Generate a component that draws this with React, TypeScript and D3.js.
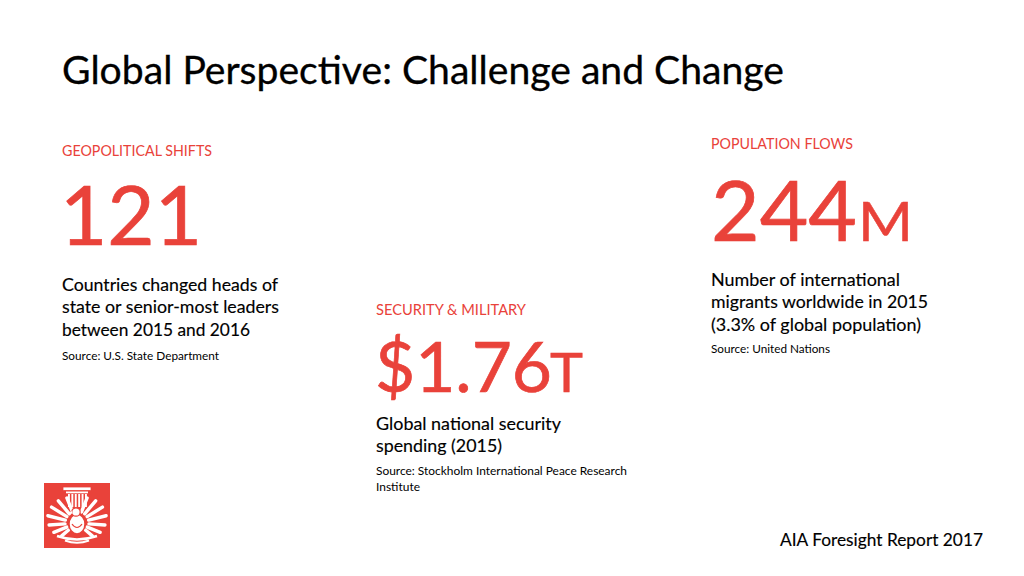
import React from "react";
import * as d3 from "d3";

const RED = "#E9423A";
const FONT = "Lato, 'Open Sans', sans-serif";

const title = "Global Perspective: Challenge and Change";
const sections = ["GEOPOLITICAL SHIFTS", "SECURITY & MILITARY", "POPULATION FLOWS"];
const values = ["121", "$1.76", "244"];
const units = ["", "T", "M"];
const descriptions = [
  ["Countries changed heads of", "state or senior-most leaders", "between 2015 and 2016"],
  ["Global national security", "spending (2015)"],
  ["Number of international", "migrants worldwide in 2015", "(3.3% of global population)"],
];
const sources = [
  ["Source: U.S. State Department"],
  ["Source: Stockholm International Peace Research", "Institute"],
  ["Source: United Nations"],
];
const footer = "AIA Foresight Report 2017";

// layout (positions only)
const blocks = [
  {
    x: 62, labelY: 155.5, labelW: 150,
    numX: 60, numY: 245, numSize: 81, numW: 142, unitX: 0, unitSize: 0, unitW: 0,
    descY: 290.7, descW: [216, 217, 188], srcY: 360, srcW: [157],
  },
  {
    x: 376, labelY: 315, labelW: 150,
    numX: 375, numY: 392, numSize: 69, numW: 177, unitX: 550, unitSize: 55, unitW: 33,
    descY: 429.5, descW: [185, 126], srcY: 475, srcW: [251, 44],
  },
  {
    x: 711, labelY: 148.8, labelW: 142,
    numX: 711, numY: 241, numSize: 83, numW: 146, unitX: 858, unitSize: 55, unitW: 55,
    descY: 285.5, descW: [189, 217, 210], srcY: 352.7, srcW: [119],
  },
];

function Logo({ x, y, w, h }: { x: number; y: number; w: number; h: number }) {
  const cx = w / 2;
  const cy = 40;
  const line = d3.line();
  const feathers = [
    { a: 22, r0: 12, r1: 27 },
    { a: 40, r0: 12, r1: 29 },
    { a: 58, r0: 12, r1: 30 },
    { a: 76, r0: 12, r1: 30 },
    { a: 94, r0: 12, r1: 28 },
    { a: 112, r0: 11, r1: 25 },
    { a: 130, r0: 11, r1: 20 },
  ];
  const paths: string[] = [];
  feathers.forEach((f) => {
    [1, -1].forEach((s) => {
      const t = (f.a * Math.PI) / 180;
      const dx = Math.sin(t) * s;
      const dy = -Math.cos(t);
      const p0: [number, number] = [cx + dx * f.r0, cy + dy * f.r0];
      const p1: [number, number] = [cx + dx * f.r1, cy + dy * f.r1];
      paths.push(line([p0, p1]) as string);
    });
  });
  return (
    <g transform={`translate(${x},${y})`}>
      <rect width={w} height={h} fill={RED} />
      {paths.map((d, i) => (
        <path key={i} d={d} stroke="#fff" strokeWidth={3.4} strokeLinecap="round" fill="none" />
      ))}
      {/* capital */}
      <rect x={19} y={4} width={28} height={3.5} fill="#fff" stroke={RED} strokeWidth={0.8} />
      <rect x={22} y={8.5} width={22} height={1.8} fill="#fff" />
      {d3.range(6).map((i) => (
        <rect key={i} x={24 + i * 3.4} y={11} width={1.9} height={13} fill="#fff" />
      ))}
      {/* body */}
      <ellipse cx={cx} cy={41} rx={8} ry={10} fill="#fff" stroke={RED} strokeWidth={1.5} />
      <path d={`M${cx - 5},${41} Q${cx},${48} ${cx + 5},${41}`} stroke={RED} strokeWidth={1.2} fill="none" />
      <circle cx={cx - 1} cy={29} r={4.2} fill="#fff" stroke={RED} strokeWidth={1.2} />
      <path d={`M${cx - 5},${28} L${cx - 8},${30} L${cx - 4.5},${31} Z`} fill="#fff" />
      {/* base */}
      <path d={`M${cx - 20},${53} Q${cx},${60} ${cx + 20},${53}`} stroke="#fff" strokeWidth={2.4} fill="none" />
      <path d={`M${cx - 12},${57.5} Q${cx},${62} ${cx + 12},${57.5}`} stroke="#fff" strokeWidth={2} fill="none" />
    </g>
  );
}

export default function App() {
  return (
    <svg
      width={1024}
      height={576}
      style={{ position: "absolute", left: 0, top: 0, background: "#fff" }}
      fontFamily={FONT}
    >
      <rect width={1024} height={576} fill="#fff" />
      <text x={62} y={84} fontSize={38} fill="#000" stroke="#000" strokeWidth={0.3} textLength={722} lengthAdjust="spacingAndGlyphs">
        {title}
      </text>

      {blocks.map((b, i) => (
        <g key={i}>
          <text x={b.x} y={b.labelY} fontSize={14.5} fill={RED} textLength={b.labelW} lengthAdjust="spacingAndGlyphs">
            {sections[i]}
          </text>
          <text x={b.numX} y={b.numY} fontSize={b.numSize} fill={RED} stroke={RED} strokeWidth={0.7} textLength={b.numW} lengthAdjust="spacingAndGlyphs">
            {values[i]}
          </text>
          {units[i] && (
            <text x={b.unitX} y={b.numY} fontSize={b.unitSize} fill={RED} stroke={RED} strokeWidth={0.5} textLength={b.unitW} lengthAdjust="spacingAndGlyphs">
              {units[i]}
            </text>
          )}
          {descriptions[i].map((s, j) => (
            <text key={j} x={b.x} y={b.descY + j * 22.7} fontSize={17.5} fill="#000" stroke="#000" strokeWidth={0.15} textLength={b.descW[j]} lengthAdjust="spacingAndGlyphs">
              {s}
            </text>
          ))}
          {sources[i].map((s, j) => (
            <text key={j} x={b.x} y={b.srcY + j * 15.5} fontSize={11.8} fill="#000" textLength={b.srcW[j]} lengthAdjust="spacingAndGlyphs">
              {s}
            </text>
          ))}
        </g>
      ))}

      <text x={780} y={546} fontSize={18} fill="#000" stroke="#000" strokeWidth={0.15} textLength={203} lengthAdjust="spacingAndGlyphs">
        {footer}
      </text>

      <Logo x={44} y={483} w={66} h={65} />
    </svg>
  );
}
